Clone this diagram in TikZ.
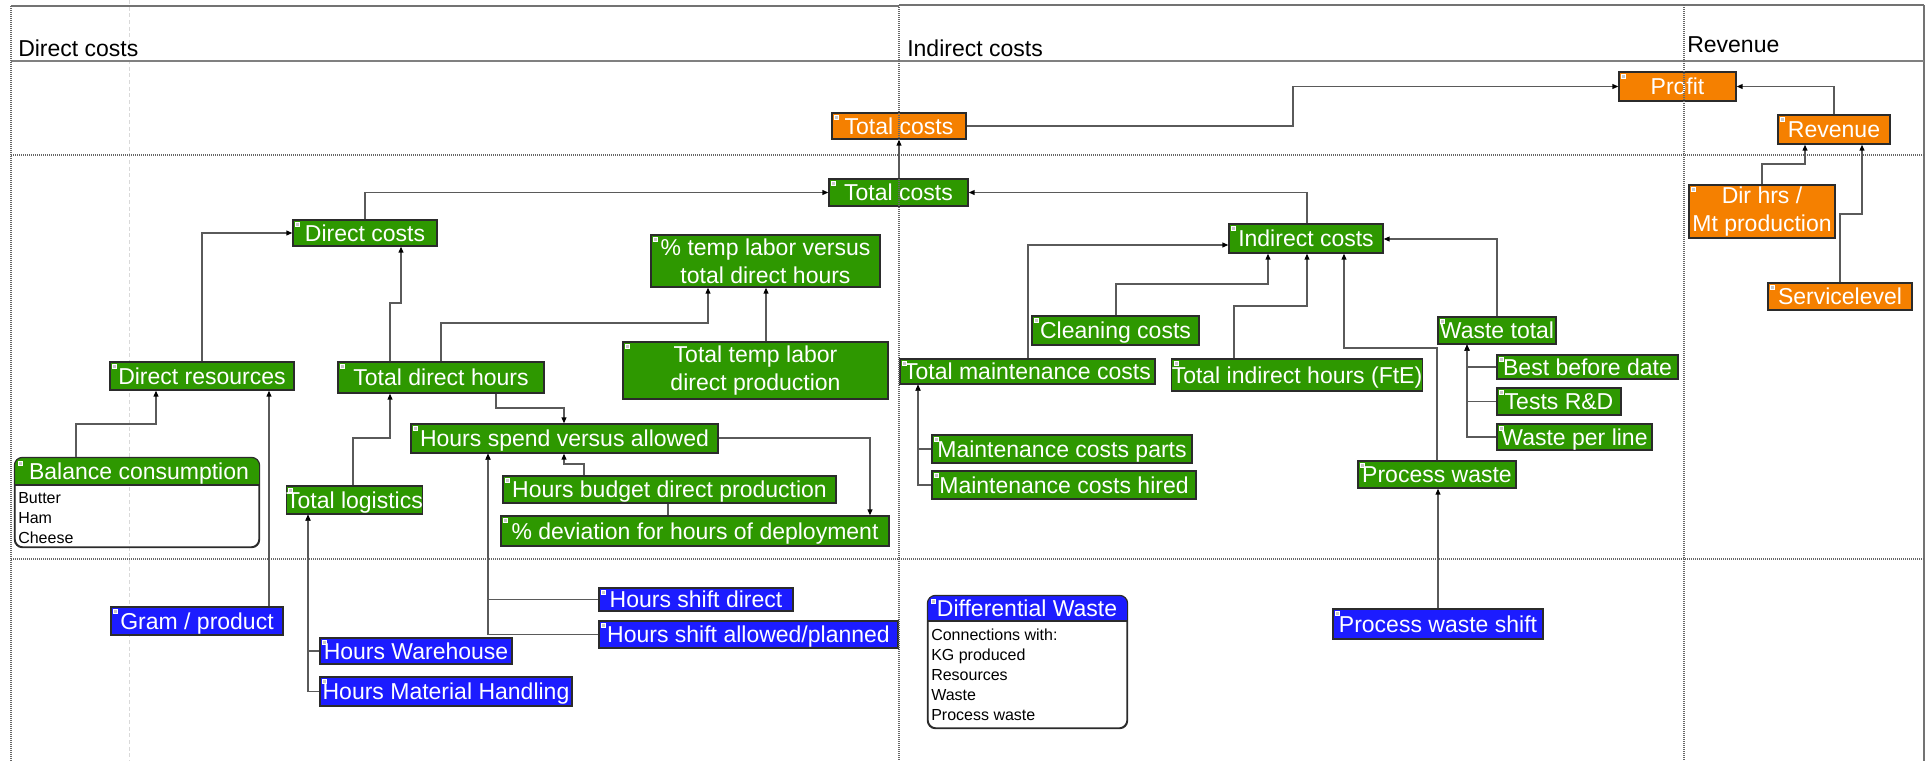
\documentclass[tikz,border=0pt]{standalone}
\usepackage{fontspec}
\setmainfont{Liberation Sans}
\usetikzlibrary{arrows.meta}

\definecolor{kgreen}{RGB}{46,152,0}
\definecolor{korange}{RGB}{245,128,0}
\definecolor{kblue}{RGB}{28,28,255}
\definecolor{kline}{RGB}{43,43,43}
\definecolor{kconn}{RGB}{90,90,90}

\newcommand\kfontbox{\fontsize{17.25pt}{21pt}\selectfont}
\newcommand\kfonthead{\fontsize{17.25pt}{21pt}\selectfont}
\newcommand\kfontsmall{\fontsize{12pt}{15pt}\selectfont}

% \kbox{style}{name}{x1}{y1}{x2}{y2}{label}: box given by its corners (px units)
\newcommand\kbox[7]{%
  \pgfmathsetmacro\kbw{(#5-#3)*0.75}%
  \pgfmathsetmacro\kbh{(#6-#4)*0.75}%
  \node[#1, minimum width=\kbw pt, minimum height=\kbh pt] (#2) at ({(#3+#5)/2},{(#4+#6)/2}) {#7};%
  \draw[kicon] ([shift={(2pt,-2pt)}]#2.north west) rectangle ++(3.2pt,-3.2pt);%
}

\tikzset{
  boxcore/.style={draw=kline, line width=0.9pt, inner sep=0pt, text=white, font=\kfontbox},
  box/.style={boxcore, text height=12.35pt, text depth=0pt},
  gbox/.style={box, fill=kgreen},
  obox/.style={box, fill=korange},
  bbox/.style={box, fill=kblue},
  gtwo/.style={boxcore, fill=kgreen, align=center},
  otwo/.style={boxcore, fill=korange, align=center},
  kicon/.style={fill=black!22, draw=white, line width=0.3pt},
  conn/.style={draw=kconn, line width=1pt},
  arr/.style={conn, -{Triangle[length=4.5pt,width=3.6pt,color=black]}},
  border/.style={draw=black!55, line width=1pt},
  headline/.style={draw=black!50, line width=1.5pt},
  laneline/.style={draw=black!60, line width=0.8pt, dash pattern=on 0.75pt off 0.75pt},
  guide/.style={draw=black!15, line width=0.6pt, dash pattern=on 3pt off 2pt},
  headtext/.style={anchor=base west, font=\kfonthead, inner sep=0pt, text=black},
  smalltext/.style={anchor=north west, align=left, font=\kfontsmall, inner sep=0pt, text=black},
  cardtitle/.style={text=white, font=\kfontbox, inner sep=0pt, text height=12.35pt, text depth=0pt},
  card/.style={draw=kline, line width=0.9pt, rounded corners=6pt, inner sep=0pt}
}

\begin{document}
\begin{tikzpicture}[x=0.75pt,y=-0.75pt]
\useasboundingbox (0,0) rectangle (1930,761);

% faint guide line behind everything
\draw[guide] (129,0) -- (129,761);

% ---------------- swimlane frame ----------------
\draw[border] (11,6) -- (899,6);
\draw[border] (899,5) -- (1924,5);
\draw[border] (1924,5) -- (1924,761);
\draw[headline] (11,61) -- (1924,61);
\draw[laneline] (11,6) -- (11,761);

\node[headtext] (hdir) at (18,56) {Direct costs};
\node[headtext] (hind) at (907,56) {Indirect costs};
\node[headtext] (hrev) at (1687,52) {Revenue};

% ---------------- revenue / totals ----------------
\kbox{obox}{tco}{832}{113}{966}{139}{Total costs}
\kbox{obox}{profit}{1619}{72}{1736}{101}{Profit}
\kbox{obox}{rev}{1778}{115}{1890}{144}{Revenue}
\kbox{otwo}{dh}{1689}{185}{1835}{238}{Dir hrs /\\Mt production}
\kbox{obox}{sl}{1768}{283}{1912}{310}{Servicelevel}
\kbox{gbox}{tcg}{829}{179}{968}{206}{Total costs}

% ---------------- direct costs ----------------
\kbox{gbox}{dc}{293}{220}{437}{246}{Direct costs}
\kbox{gtwo}{ptl}{651}{235}{880}{287}{\% temp labor versus\\total direct hours}
\kbox{gtwo}{ttl}{623}{342}{888}{399}{Total temp labor\\direct production}
\kbox{gbox}{dr}{110}{362}{294}{390}{Direct resources}
\kbox{gbox}{tdh}{338}{362}{544}{393}{Total direct hours}
\kbox{gbox}{hsva}{411}{424}{718}{453}{Hours spend versus allowed}
\kbox{gbox}{hbdp}{503}{476}{836}{503}{Hours budget direct production}
\kbox{gbox}{pdev}{501}{516}{889}{546}{\% deviation for hours of deployment}
\kbox{gbox}{tl}{287}{486}{422}{514}{Total logistics}
\kbox{bbox}{gram}{111}{607}{283}{635}{Gram / product}
\kbox{bbox}{hw}{320}{638}{512}{664}{Hours Warehouse}
\kbox{bbox}{hmh}{320}{677}{572}{706}{Hours Material Handling}
\kbox{bbox}{hsd}{599}{588}{793}{611}{Hours shift direct}
\kbox{bbox}{hsap}{599}{621}{898}{648}{Hours shift allowed/planned}

% balance consumption card
\node[card, minimum width=183pt, minimum height=66.75pt] (bc) at (137,502.5) {};
\begin{scope}
  \clip[rounded corners=6pt] (bc.north west) rectangle (bc.south east);
  \fill[kgreen] (bc.north west) rectangle (bc.east |- 0,485);
\end{scope}
\draw[kline, line width=0.9pt] (bc.west |- 0,485) -- (bc.east |- 0,485);
\draw[kline, line width=0.9pt, rounded corners=6pt] (bc.north west) rectangle (bc.south east);
\draw[kicon] ([shift={(3pt,-3pt)}]bc.north west) rectangle ++(3.2pt,-3.2pt);
\node[cardtitle] (bctitle) at (139,471.5) {Balance consumption};
\node[smalltext] (bcbody) at (18,492.5) {Butter\\Ham\\Cheese};

% ---------------- indirect costs ----------------
\kbox{gbox}{ic}{1229}{224}{1383}{253}{Indirect costs}
\kbox{gbox}{cc}{1032}{316}{1199}{345}{Cleaning costs}
\kbox{gbox}{tmc}{900}{359}{1155}{384}{Total maintenance costs}
\kbox{gbox}{tih}{1173}{359}{1421}{391}{Total indirect hours (FtE)}
\kbox{gbox}{mcp}{932}{435}{1192}{463}{Maintenance costs parts}
\kbox{gbox}{mch}{932}{471}{1196}{499}{Maintenance costs hired}
\kbox{gbox}{wt}{1438}{317}{1556}{344}{Waste total}
\kbox{gbox}{bbd}{1497}{355}{1678}{379}{Best before date}
\kbox{gbox}{trd}{1497}{388}{1621}{415}{Tests R\&D}
\kbox{gbox}{wpl}{1497}{424}{1652}{450}{Waste per line}
\kbox{gbox}{pw}{1358}{461}{1516}{488}{Process waste}
\kbox{bbox}{pws}{1333}{609}{1543}{639}{Process waste shift}

% differential waste card
\node[card, minimum width=149.25pt, minimum height=99pt] (dw) at (1027.5,662) {};
\begin{scope}
  \clip[rounded corners=6pt] (dw.north west) rectangle (dw.south east);
  \fill[kblue] (dw.north west) rectangle (dw.east |- 0,621);
\end{scope}
\draw[kline, line width=0.9pt] (dw.west |- 0,621) -- (dw.east |- 0,621);
\draw[kline, line width=0.9pt, rounded corners=6pt] (dw.north west) rectangle (dw.south east);
\draw[kicon] ([shift={(3pt,-3pt)}]dw.north west) rectangle ++(3.2pt,-3.2pt);
\node[cardtitle] (dwtitle) at (1027,608.5) {Differential Waste};
\node[smalltext] (dwbody) at (931,628.5) {Connections with:\\KG produced\\Resources\\Waste\\Process waste};

% lane separators (drawn over the boxes)
\draw[laneline] (11,155) -- (1924,155);
\draw[laneline] (11,559) -- (1924,559);
\draw[laneline] (899,5) -- (899,761);
\draw[laneline] (1684,5) -- (1684,761);

% ---------------- connectors ----------------
\draw[arr] (bc.north -| 76,0) |- (156,424) -- (dr.south -| 156,0);
\draw[arr] (gram.north -| 269,0) -- (dr.south -| 269,0);
\draw[arr] (dr.north -| 202,0) |- (dc.west);
\draw[arr] (tdh.north -| 390,0) |- (401,303) -- (dc.south -| 401,0);
\draw[arr] (tl.north -| 353,0) |- (390,438) -- (tdh.south -| 390,0);
\draw[arr] (hw.west) -| (tl.south -| 308,0);
\draw[arr] (hmh.west) -| (tl.south -| 308,0);
\draw[arr] (dc.north -| 365,0) |- (tcg.west);
\draw[arr] (tdh.north -| 441,0) |- (708,323) -- (ptl.south -| 708,0);
\draw[arr] (ttl.north -| 766,0) -- (ptl.south -| 766,0);
\draw[arr] (tdh.south -| 496,0) |- (564,408) -- (hsva.north -| 564,0);
\draw[arr] (hbdp.north -| 584,0) |- (564,464) -- (hsva.south -| 564,0);
\draw[arr] (hsva.east |- 0,438) -| (pdev.north -| 870,0);
\draw[conn] (hbdp.south -| 668,0) -- (pdev.north -| 668,0);
\draw[arr] (hsd.west) -| (hsva.south -| 488,0);
\draw[arr] (hsap.west) -| (hsva.south -| 488,0);

\draw[arr] (tcg.north -| 899,0) -- (tco.south -| 899,0);
\draw[arr] (ic.north -| 1307,0) |- (tcg.east);
\draw[arr] (tco.east) -| (1293,86.5) -- (profit.west);
\draw[arr] (rev.north -| 1834,0) |- (profit.east);
\draw[arr] (dh.north -| 1762,0) |- (1805,164) -- (rev.south -| 1805,0);
\draw[arr] (sl.north -| 1840,0) |- (1862,214) -- (rev.south -| 1862,0);

\draw[arr] (tmc.north -| 1028,0) |- (ic.west |- 0,245);
\draw[arr] (cc.north -| 1116,0) |- (1268,284) -- (ic.south -| 1268,0);
\draw[arr] (tih.north -| 1234,0) |- (1307,306) -- (ic.south -| 1307,0);
\draw[arr] (pw.north -| 1437,0) |- (1344,348) -- (ic.south -| 1344,0);
\draw[arr] (wt.north -| 1497,0) |- (ic.east |- 0,239);
\draw[arr] (bbd.west) -| (wt.south -| 1467,0);
\draw[arr] (trd.west) -| (wt.south -| 1467,0);
\draw[arr] (wpl.west) -| (wt.south -| 1467,0);
\draw[arr] (mcp.west) -| (tmc.south -| 918,0);
\draw[arr] (mch.west) -| (tmc.south -| 918,0);
\draw[arr] (pws.north -| 1438,0) -- (pw.south -| 1438,0);
\end{tikzpicture}
\end{document}
